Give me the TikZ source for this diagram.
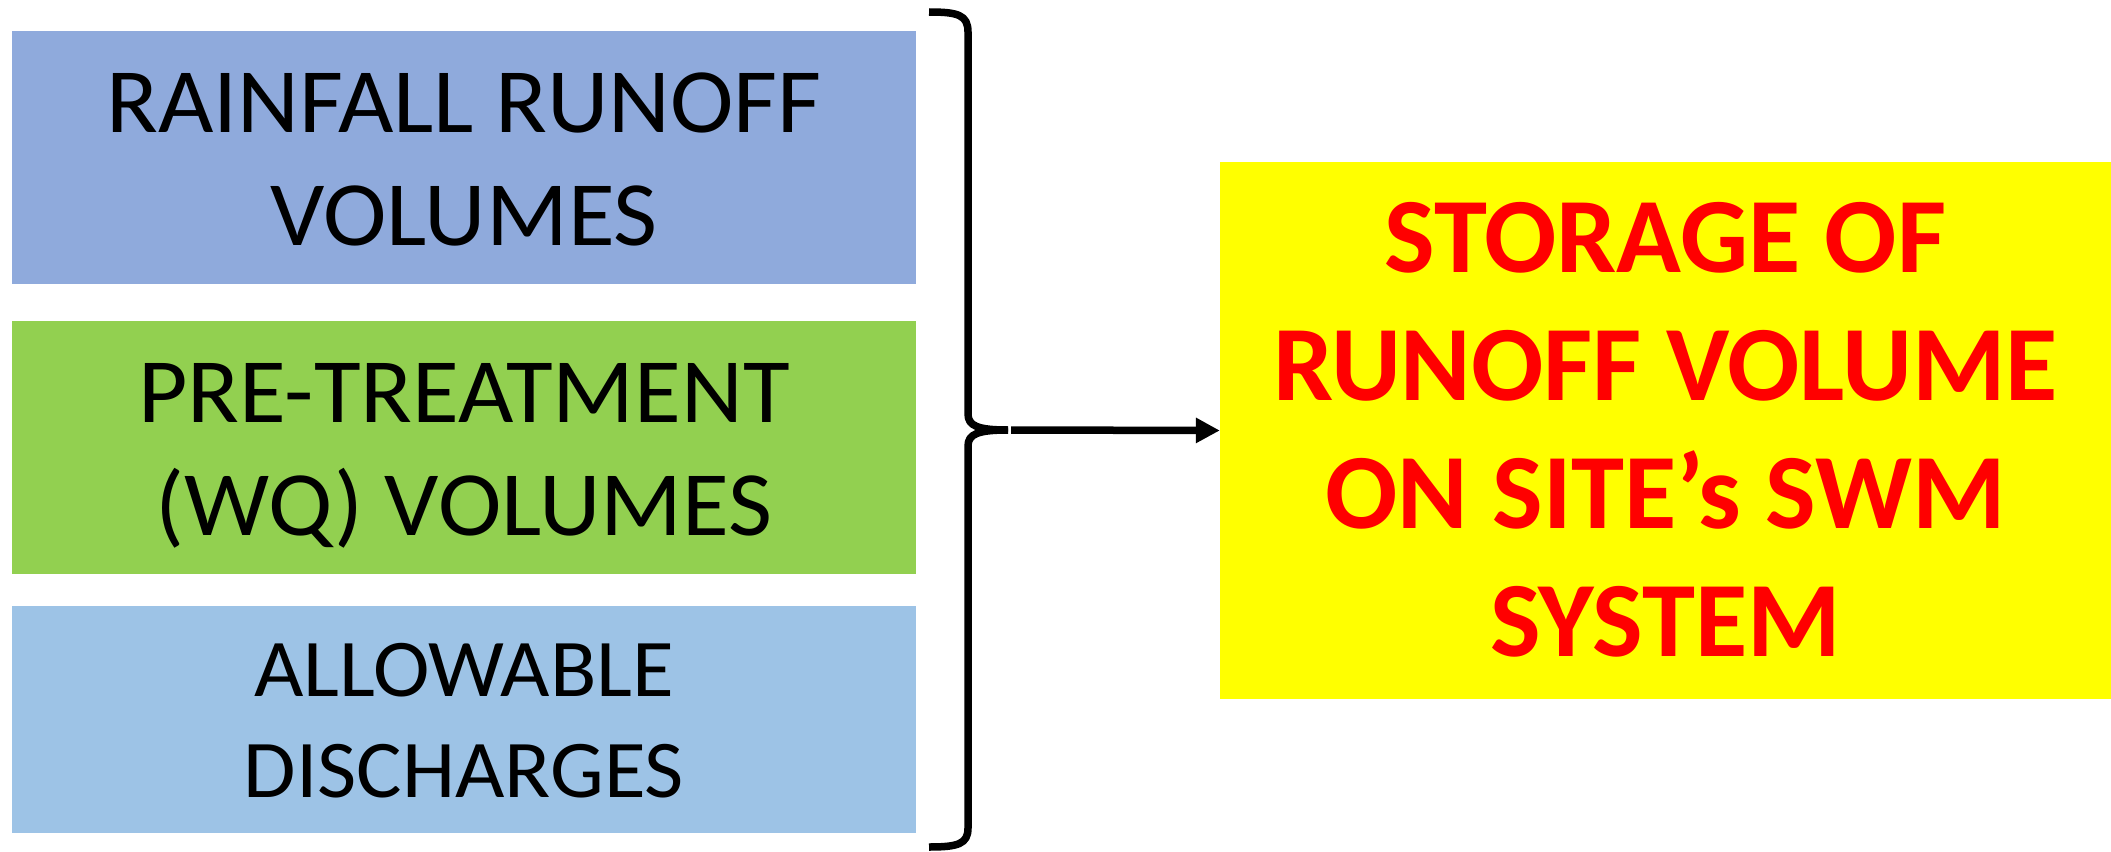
\documentclass[tikz,border=0pt]{standalone}
\usepackage{fontspec}
\setmainfont{Carlito}
\newfontfamily\panelfont{Carlito}[FakeStretch=1.04]
\usetikzlibrary{arrows.meta}

\definecolor{rainblue}{HTML}{8FAADC}
\definecolor{treatgreen}{HTML}{92D050}
\definecolor{dischblue}{HTML}{9DC3E6}
\definecolor{storeyellow}{HTML}{FFFF00}
\definecolor{storered}{HTML}{FF0000}

\tikzset{
  panel/.style={rectangle, draw=none, inner sep=0pt},
  inlabel/.style={anchor=base, inner sep=0pt, text=black,
    font=\panelfont\fontsize{92}{113}\selectfont},
  smalllabel/.style={inlabel, font=\panelfont\fontsize{82}{101}\selectfont},
  outlabel/.style={anchor=base, inner sep=0pt, text=storered,
    font=\fontsize{107}{128}\selectfont\bfseries},
  bracket/.style={line width=7.5pt, line cap=butt, line join=round, draw=black},
  flow/.style={line width=7.5pt, draw=black, -{Triangle[length=24pt,width=24pt]}}
}

\begin{document}
\begin{tikzpicture}[x=1pt, y=-1pt]
  \useasboundingbox (0,0) rectangle (2111,851);

  % input panels
  \node[panel, fill=rainblue,   minimum width=904pt, minimum height=253pt] (rain)  at (464,157.5) {};
  \node[panel, fill=treatgreen, minimum width=904pt, minimum height=253pt] (treat) at (464,447.5) {};
  \node[panel, fill=dischblue,  minimum width=904pt, minimum height=227pt] (disch) at (464,719.5) {};

  \node[inlabel] (rainA)  at (464,132) {RAINFALL RUNOFF};
  \node[inlabel] (rainB)  at (464,245) {VOLUMES};
  \node[inlabel] (treatA) at (464,422) {PRE-TREATMENT};
  \node[inlabel] (treatB) at (464,535) {(WQ) VOLUMES};
  \node[smalllabel] (dischA) at (464,696) {ALLOWABLE};
  \node[smalllabel] (dischB) at (464,797) {DISCHARGES};

  % result panel
  \node[panel, fill=storeyellow, minimum width=891pt, minimum height=537pt] (store) at (1665.5,430.5) {};
  \node[outlabel] (storeA) at (1665.5,272) {STORAGE OF};
  \node[outlabel] (storeB) at (1665.5,400) {RUNOFF VOLUME};
  \node[outlabel] (storeC) at (1665.5,528) {ON SITE’s SWM};
  \node[outlabel] (storeD) at (1665.5,656) {SYSTEM};

  % closing brace grouping the three inputs
  \coordinate (braceTop) at (929,12);
  \coordinate (braceBot) at (929,847);
  \coordinate (braceTip) at (1008,430);
  \draw[bracket] (braceTop) .. controls (958,12) and (968,15) .. (968,32)
    -- (968,414) .. controls (968,426) and (978,430) .. (braceTip);
  \draw[bracket] (braceTip) .. controls (978,430) and (968,434) .. (968,446)
    -- (968,828) .. controls (968,844) and (958,847) .. (braceBot);

  % arrow to the result
  \coordinate (flowStart) at (1011,430);
  \draw[flow] (flowStart) -- (store.west);
\end{tikzpicture}
\end{document}
